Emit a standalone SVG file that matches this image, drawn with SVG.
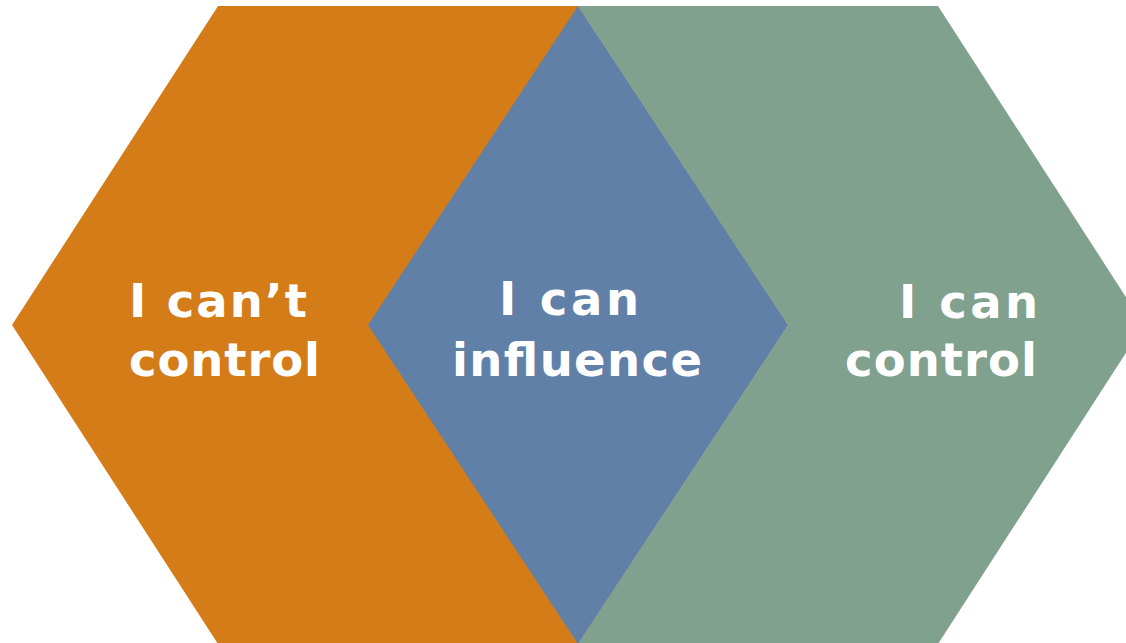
<svg xmlns="http://www.w3.org/2000/svg" width="1126" height="643" viewBox="0 0 1126 643">
  <style>
    .label { font-family: "DejaVu Sans", Verdana, sans-serif; font-weight: bold; font-size: 46.5px; fill: #FFFFFF; }
  </style>
  <rect width="1126" height="643" fill="#FFFFFF"/>
  <g id="cant-control">
    <polygon points="218,6 578,6 788,325 578,644 218,644 12,325" fill="#D47C18"/>
    <text class="label" x="129" y="317" textLength="178" lengthAdjust="spacing">I can’t</text>
    <text class="label" x="129" y="376" textLength="191" lengthAdjust="spacing">control</text>
  </g>
  <g id="can-control">
    <polygon points="578,6 938,6 1144,325 938,644 578,644 788,325" fill="#7FA18E"/>
    <text class="label" x="899" y="318" textLength="139" lengthAdjust="spacing">I can</text>
    <text class="label" x="845" y="376" textLength="192" lengthAdjust="spacing">control</text>
  </g>
  <g id="can-influence">
    <polygon points="578,6 788,325 578,644 368,325" fill="#6080A8"/>
    <text class="label" x="499" y="315" textLength="140" lengthAdjust="spacing">I can</text>
    <text class="label" x="452" y="376" textLength="250" lengthAdjust="spacing">influence</text>
  </g>
  <g id="connectors"/>
</svg>
